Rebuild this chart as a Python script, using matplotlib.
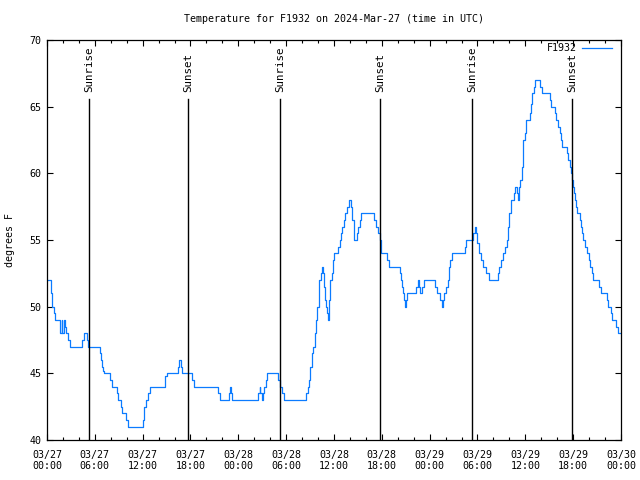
import pandas as pd
import matplotlib
matplotlib.use("Agg")
import matplotlib.pyplot as plt
import matplotlib.dates as mdates

# hours after 2024-03-27 00:00 UTC and temperature (F)
hours = [0.0, 0.44, 0.63, 0.82, 1.0, 1.69, 1.82, 1.94, 2.07, 2.2, 2.38, 2.63, 2.88,
         4.39, 4.64, 4.77, 5.02, 5.14, 6.65, 6.77, 6.9, 7.03, 7.15, 7.9, 8.15, 8.72,
         8.91, 9.28, 9.47, 9.91, 10.16, 11.98, 12.17, 12.42, 12.67, 12.92, 14.8, 14.86,
         14.99, 16.43, 16.62, 16.81, 16.93, 18.19, 18.38, 21.45, 21.64, 22.83, 22.96,
         23.08, 23.21, 26.47, 26.66, 26.78, 26.91, 27.1, 27.22, 27.41, 27.6, 28.98,
         29.23, 29.48, 29.73, 32.49, 32.68, 32.87, 33.05, 33.24, 33.37, 33.56, 33.74,
         33.93, 34.06, 34.18, 34.37, 34.5, 34.62, 34.75, 34.87, 35.0, 35.12, 35.25,
         35.37, 35.5, 35.75, 35.88, 36.06, 36.5, 36.69, 36.88, 37.0, 37.26, 37.44,
         37.63, 37.82, 38.13, 38.26, 38.45, 38.57, 38.89, 39.01, 39.2, 39.33, 40.96,
         41.21, 41.46, 41.71, 41.9, 42.65, 42.9, 44.28, 44.41, 44.53, 44.66, 44.78,
         44.91, 45.03, 45.16, 46.29, 46.48, 46.6, 46.79, 47.1, 47.23, 48.67, 48.86,
         49.3, 49.55, 49.67, 49.86, 50.05, 50.24, 50.37, 50.55, 50.74, 52.43, 52.56,
         53.44, 53.63, 53.81, 53.94, 54.13, 54.44, 54.69, 55.07, 55.38, 56.51, 56.7,
         56.95, 57.2, 57.45, 57.64, 57.77, 57.95, 58.2, 58.58, 58.71, 58.9, 59.02,
         59.15, 59.34, 59.52, 59.65, 59.77, 59.9, 60.09, 60.53, 60.71, 60.84, 61.03,
         61.15, 61.84, 62.09, 63.1, 63.28, 63.66, 63.85, 64.1, 64.29, 64.48, 64.66,
         65.23, 65.41, 65.6, 65.73, 65.85, 65.98, 66.1, 66.23, 66.36, 66.48, 66.8,
         66.92, 67.11, 67.24, 67.49, 67.68, 67.93, 68.05, 68.3, 68.49, 69.24, 69.49,
         70.25, 70.43, 70.75, 70.93, 71.43, 71.68, 71.94]
temps = [52, 51, 50, 49.5, 49, 48, 49, 48, 49, 48.5, 48, 47.5, 47,
         47.5, 48, 48, 47.5, 47, 46.5, 46, 45.5, 45.2, 45, 44.5, 44, 43.5,
         43, 42.5, 42, 41.5, 41, 41.5, 42.5, 43, 43.5, 44, 44.5, 44.8,
         45, 45.5, 46, 45.5, 45, 44.5, 44, 43.5, 43, 43.5, 44,
         43.5, 43, 43.5, 44, 43.5, 43, 43.5, 44, 44.5, 45, 44.5,
         44, 43.5, 43, 43.5, 44, 44.5, 45.5, 46.5, 47, 48, 49,
         50, 51, 52, 52.5, 53, 52.5, 51.5, 50.5, 50, 49.5, 49,
         50.5, 52, 52.5, 53.5, 54, 54.5, 55, 55.5, 56, 56.5, 57,
         57.5, 58, 57.5, 56.5, 55.5, 55, 55.5, 56, 56.5, 57, 56.5,
         56, 55.5, 55, 54, 53.5, 53, 52.5, 52, 51.5, 51, 50.5,
         50, 50.5, 51, 51.5, 52, 51.5, 51, 51.5, 52, 51.5, 51,
         50.5, 50, 50.5, 51, 51.5, 52, 53, 53.5, 54, 54.5, 55,
         55.5, 56, 55.5, 54.8, 54, 53.5, 53, 52.5, 52, 52.5, 53,
         53.5, 54, 54.5, 55, 56, 57, 58, 58.5, 59, 58.5, 58,
         59, 59.5, 60.5, 61.5, 62.5, 63, 64, 64.5, 65.2, 66, 66.5,
         67, 66.5, 66, 65.5, 65, 64.5, 64, 63.5, 63, 62.5, 62,
         61.5, 61, 60.5, 60, 59.5, 59, 58.5, 58, 57.5, 57, 56.5,
         56, 55.5, 55, 54.5, 54, 53.5, 53, 52.5, 52, 51.5, 51,
         50.5, 50, 49.5, 49, 48.5, 48, 48]

sun_hours = [5.3, 17.73, 29.25, 41.8, 53.35, 65.9]
sun_labels = ["Sunrise", "Sunset", "Sunrise", "Sunset", "Sunrise", "Sunset"]

start = pd.Timestamp("2024-03-27 00:00")
times = [start + pd.Timedelta(hours=h) for h in hours]
sun_times = [start + pd.Timedelta(hours=h) for h in sun_hours]

plt.rcParams['font.family'] = ['DejaVu Sans Mono']
plt.rcParams['font.size'] = 7.2

fig = plt.figure(figsize=(6.4, 4.8), dpi=100)
ax = fig.add_axes([47/640, 40/480, 574/640, 400/480])

ax.plot(times, temps, color='#0b7bff', lw=0.9, drawstyle='steps-post', label='F1932')

for t, lab in zip(sun_times, sun_labels):
    ax.plot([t, t], [40, 65.55], color='black', lw=1.0)
    ax.text(t, 66.1, lab, rotation=90, ha='center', va='bottom', fontsize=7.8)

ax.set_xlim(start, start + pd.Timedelta(hours=72))
ax.set_ylim(40, 70)
ax.set_yticks(range(40, 71, 5))

ax.xaxis.set_major_locator(mdates.HourLocator(byhour=[0, 6, 12, 18]))
ax.xaxis.set_minor_locator(mdates.HourLocator(byhour=range(0, 24, 2)))
ax.xaxis.set_major_formatter(mdates.DateFormatter('%m/%d\n%H:%M'))

ax.tick_params(which='both', direction='in', top=True, right=True, width=0.8)
ax.tick_params(which='major', length=4.3)
ax.tick_params(which='minor', length=2.2)
ax.tick_params(axis='x', pad=7)
ax.tick_params(axis='y', pad=4)
for s in ax.spines.values():
    s.set_linewidth(0.9)

ax.legend(loc='upper right', bbox_to_anchor=(0.984, 0.992), frameon=False,
          markerfirst=False, handlelength=3.0, handletextpad=0.5,
          borderpad=0, borderaxespad=0)

fig.text(334/640, 1 - 19/480, 'Temperature for F1932 on 2024-Mar-27 (time in UTC)',
         ha='center', va='center')
fig.text(10/640, 0.5, 'degrees F', rotation=90, ha='center', va='center')

fig.savefig('out.png', dpi=100)
